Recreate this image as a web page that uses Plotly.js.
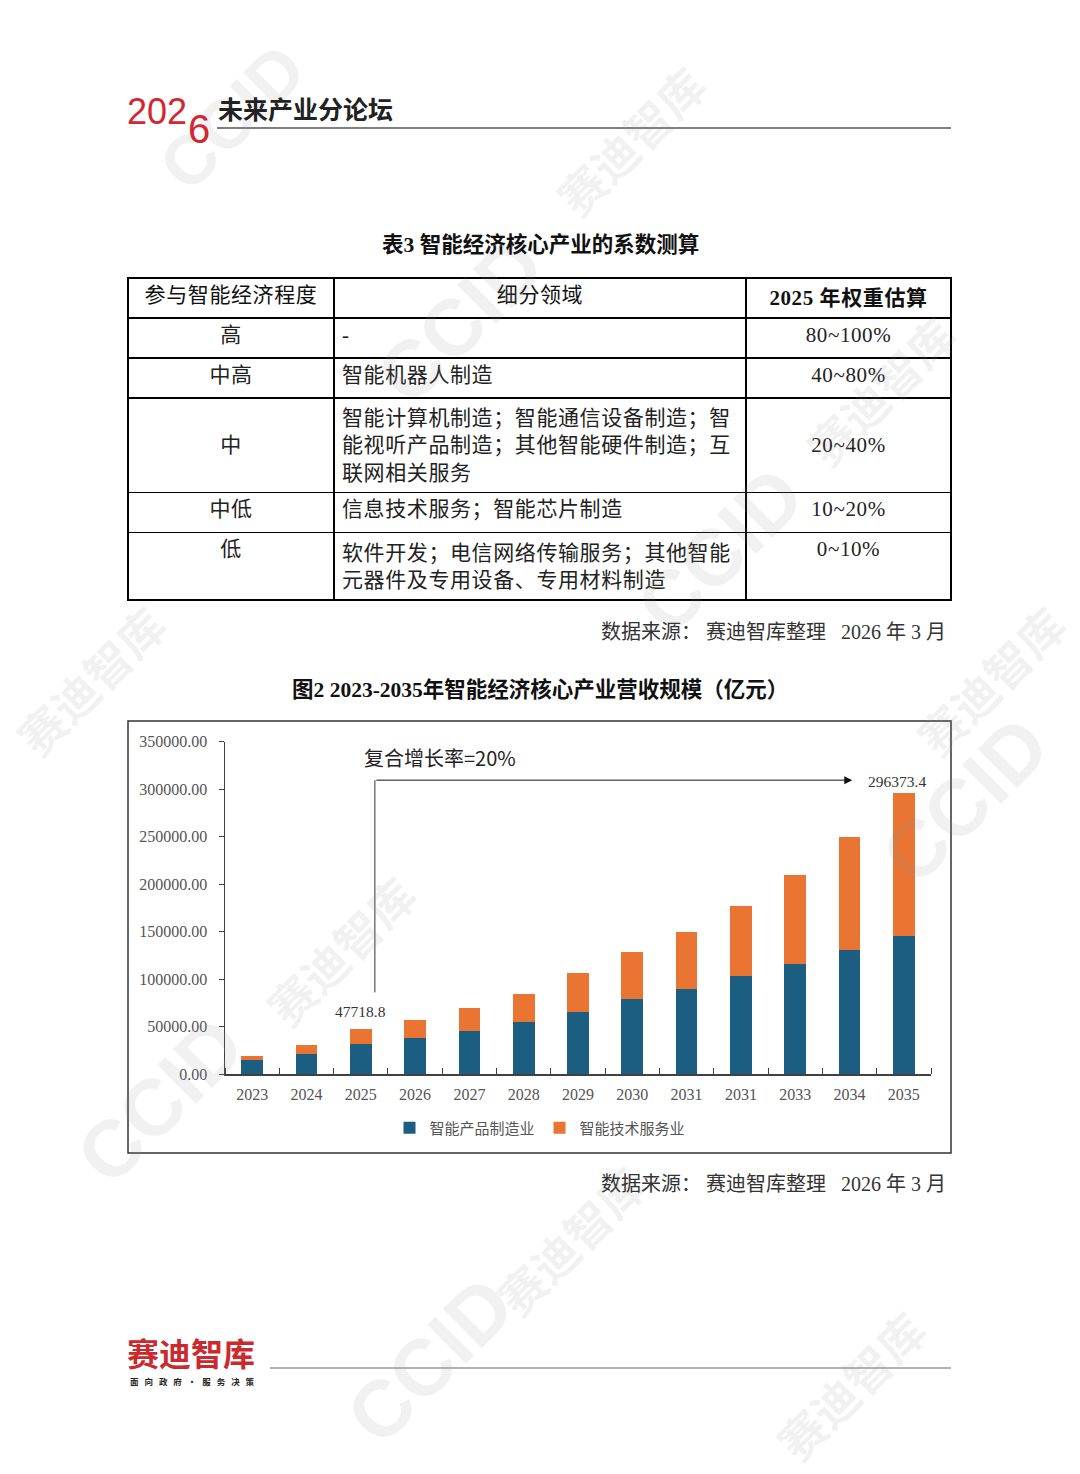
<!DOCTYPE html>
<html>
<head>
<meta charset="utf-8">
<script src="https://cdn.plot.ly/plotly-3.0.1.min.js"></script>
<style>
html,body{margin:0;padding:0;background:#fff;}
#page{width:1080px;height:1474px;}
text.cell-text{letter-spacing:0.6px;}
</style>
</head>
<body>
<div id="page"></div>
<script>
// ---------- data ----------
const years = ['2023','2024','2025','2026','2027','2028','2029','2030','2031','2031','2033','2034','2035'];
const productMfg = [14400, 20700, 31300, 37600, 45300, 54800, 65600, 79300, 89500, 103500, 116200, 130200, 145700];
const techService = [4600, 9800, 16418.8, 19600, 23900, 29400, 40400, 48800, 60400, 73700, 93300, 119000, 150673.4];
const seriesNames = ['智能产品制造业', '智能技术服务业'];
const yTickVals = [0, 50000, 100000, 150000, 200000, 250000, 300000, 350000];
const labelledYears = [2, 12];          // indices of bars whose total is labelled
const cagrText = '复合增长率=20%';

const tableHeader = ['参与智能经济程度', '细分领域', '<b>2025 年权重估算</b>'];
const tableLevel = ['高', '中高', '\u00a0<br>中', '中低', '低'];
const tableFields = [
  '-',
  '智能机器人制造',
  '智能计算机制造；智能通信设备制造；智<br>能视听产品制造；其他智能硬件制造；互<br>联网相关服务',
  '信息技术服务；智能芯片制造',
  '软件开发；电信网络传输服务；其他智能<br>元器件及专用设备、专用材料制造'
];
const tableWeights = ['80~100%', '40~80%', '\u00a0<br>20~40%', '10~20%', '0~10%'];

const tableTitle = '表3 智能经济核心产业的系数测算';
const chartTitle = '图2 2023-2035年智能经济核心产业营收规模（亿元）';
const sourceText = '数据来源： 赛迪智库整理\u2002 2026 年 3 月';
const footerBrand = '赛迪智库';
const footerSlogan = '面向政府·服务决策';
const headerYear = ['202', '6'];
const headerTitle = '未来产业分论坛';

// ---------- helpers ----------
const W = 1080, H = 1474;
const px = x => x / W;
const py = y => 1 - y / H;
const SERIF = 'Liberation Serif, "Noto Sans CJK SC", serif';
const SANS = '"Noto Sans CJK SC", "Noto Sans", sans-serif';
const idx = years.map((_, i) => i);
const totals = productMfg.map((v, i) => v + techService[i]);
const spaced = s => s.split('').join('\u2002\u2009');

const traces = [
  {
    type: 'table',
    domain: {x: [px(128), px(951)], y: [py(660), py(278)]},
    columnwidth: [206, 412, 205],
    header: {
      values: tableHeader,
      align: 'center',
      height: 40,
      font: {family: SERIF, size: 21, color: '#111'},
      line: {color: '#000', width: 1.3},
      fill: {color: '#fff'}
    },
    cells: {
      values: [tableLevel, tableFields, tableWeights],
      align: ['center', 'left', 'center'],
      height: 40,
      font: {family: SERIF, size: 21, color: '#222'},
      line: {color: '#000', width: 1.3},
      fill: {color: '#fff'}
    }
  },
  {
    type: 'bar', name: seriesNames[0], x: idx, y: productMfg,
    marker: {color: '#1b5e82'}, width: 0.4, hoverinfo: 'skip'
  },
  {
    type: 'bar', name: seriesNames[1], x: idx, y: techService,
    marker: {color: '#ea7431'}, width: 0.4, hoverinfo: 'skip'
  }
];

const ann = [];
// watermarks (drawn first, so underneath other annotations)
const wmColor = 'rgba(150,150,150,0.13)';
[[630,140],[880,390],[90,680],[340,950],[570,1240],[850,1385],[990,680]].forEach(p => ann.push({
  xref:'paper', yref:'paper', x: px(p[0]), y: py(p[1]), xanchor:'center', yanchor:'middle',
  text:'<b>赛迪智库</b>', textangle:-45, showarrow:false, font:{family:SANS, size:46, color:wmColor}}));
[[232,118],[460,320],[720,550],[965,800],[160,1100],[430,1360]].forEach((p, k) => ann.push({
  xref:'paper', yref:'paper', x: px(p[0]), y: py(p[1]), xanchor:'center', yanchor:'middle',
  text:'<b>CCID</b>', textangle:-45, showarrow:false,
  font:{family:'Liberation Sans, sans-serif', size: k === 0 ? 70 : 80, color:wmColor}}));
// header logo
ann.push({xref:'paper', yref:'paper', x: px(125), y: py(112), xanchor:'left', yanchor:'middle',
  text: headerYear[0], showarrow:false, font:{family:'Liberation Sans, sans-serif', size:36, color:'#d3262f'}});
ann.push({xref:'paper', yref:'paper', x: px(186), y: py(129), xanchor:'left', yanchor:'middle',
  text: headerYear[1], showarrow:false, font:{family:'Liberation Sans, sans-serif', size:40, color:'#d3262f'}});
ann.push({xref:'paper', yref:'paper', x: px(216), y: py(108), xanchor:'left', yanchor:'middle',
  text:'<b>' + headerTitle + '</b>', showarrow:false, font:{family:SANS, size:25, color:'#222'}});
// table title
ann.push({xref:'paper', yref:'paper', x: 0.5, y: py(245), xanchor:'center', yanchor:'middle',
  text:'<b>' + tableTitle + '</b>', showarrow:false, font:{family:SERIF, size:21.5, color:'#111'}});
// sources
[632, 1184].forEach(yy => ann.push({xref:'paper', yref:'paper', x: px(948), y: py(yy), xanchor:'right', yanchor:'middle',
  text: sourceText, showarrow:false, font:{family:SERIF, size:20, color:'#333'}}));
// chart title
ann.push({xref:'paper', yref:'paper', x: 0.5, y: py(690), xanchor:'center', yanchor:'middle',
  text:'<b>' + chartTitle + '</b>', showarrow:false, font:{family:SERIF, size:21.5, color:'#111'}});
// CAGR text
ann.push({xref:'paper', yref:'paper', x: px(362), y: py(757), xanchor:'left', yanchor:'middle',
  text: cagrText, showarrow:false, font:{family:SANS, size:20, color:'#222'}});
// growth arrow
ann.push({xref:'x', yref:'y', x: 11.05, y: 309500, axref:'x', ayref:'y', ax: 2.26, ay: 309500,
  text:'', showarrow:true, arrowhead:2, arrowsize:1.6, arrowwidth:1, arrowcolor:'#111', standoff:0});
// total labels
labelledYears.forEach(i => ann.push({xref:'x', yref:'y', x: i, y: totals[i], xanchor:'center', yanchor:'bottom',
  xshift: i === 12 ? -7 : 0, yshift: i === 12 ? 1 : 7,
  text: (Math.round(totals[i] * 10) / 10).toFixed(1), showarrow:false,
  font:{family:SERIF, size:15.5, color:'#333'}}));
// footer
ann.push({xref:'paper', yref:'paper', x: px(125), y: py(1352), xanchor:'left', yanchor:'middle',
  text:'<b>' + footerBrand + '</b>', showarrow:false, font:{family:SANS, size:32, color:'#c92a2e'}});
ann.push({xref:'paper', yref:'paper', x: px(128), y: py(1381), xanchor:'left', yanchor:'middle',
  text:'<b>' + spaced(footerSlogan) + '</b>', showarrow:false, font:{family:SANS, size:8.5, color:'#222'}});

const shapes = [
  {type:'line', xref:'paper', yref:'paper', x0: px(217), x1: px(951), y0: py(128), y1: py(128), line:{color:'#555', width:1.3}},
  {type:'rect', xref:'paper', yref:'paper', x0: px(128), x1: px(951), y0: py(721), y1: py(1153), line:{color:'#333', width:1.5}},
  {type:'line', xref:'x', yref:'y', x0: 2.26, x1: 2.26, y0: 86000, y1: 309500, line:{color:'#333', width:1}},
  {type:'line', xref:'paper', yref:'paper', x0: px(270), x1: px(951), y0: py(1368), y1: py(1368), line:{color:'#666', width:1.2}}
];

const layout = {
  width: W, height: H,
  margin: {l:0, r:0, t:0, b:0},
  paper_bgcolor: '#fff', plot_bgcolor: 'rgba(0,0,0,0)',
  barmode: 'stack',
  showlegend: true,
  legend: {orientation:'h', x:0.5, xanchor:'center', y: py(1128), yanchor:'middle',
    font:{family:SANS, size:15, color:'#555'}, itemwidth:30, traceorder:'normal'},
  xaxis: {
    domain: [px(225), px(931)], range: [-0.5, 12.5],
    tickmode:'array', tickvals: idx, ticktext: years, ticks:'',
    minor: {tickmode:'array', tickvals: idx.map(i => i - 0.5).concat([12.5]),
      ticks:'inside', ticklen:6, tickwidth:1, tickcolor:'#404040', showgrid:false},
    showline:true, linecolor:'#404040', linewidth:1.5, showgrid:false, zeroline:false,
    tickfont:{family:SERIF, size:16, color:'#555'}, ticklabelstandoff: 5, fixedrange:true
  },
  yaxis: {
    domain: [py(1074), py(741.7)], range: [0, 350000],
    tickmode:'array', tickvals: yTickVals, tickformat:'.2f',
    ticks:'outside', ticklen:5, tickcolor:'#404040',
    showline:true, linecolor:'#404040', linewidth:1.5, showgrid:false, zeroline:false,
    tickfont:{family:SERIF, size:16, color:'#555'}, ticklabelstandoff: 8, fixedrange:true
  },
  annotations: ann,
  shapes: shapes
};

Plotly.newPlot('page', traces, layout, {staticPlot:true, displayModeBar:false});
</script>
</body>
</html>
